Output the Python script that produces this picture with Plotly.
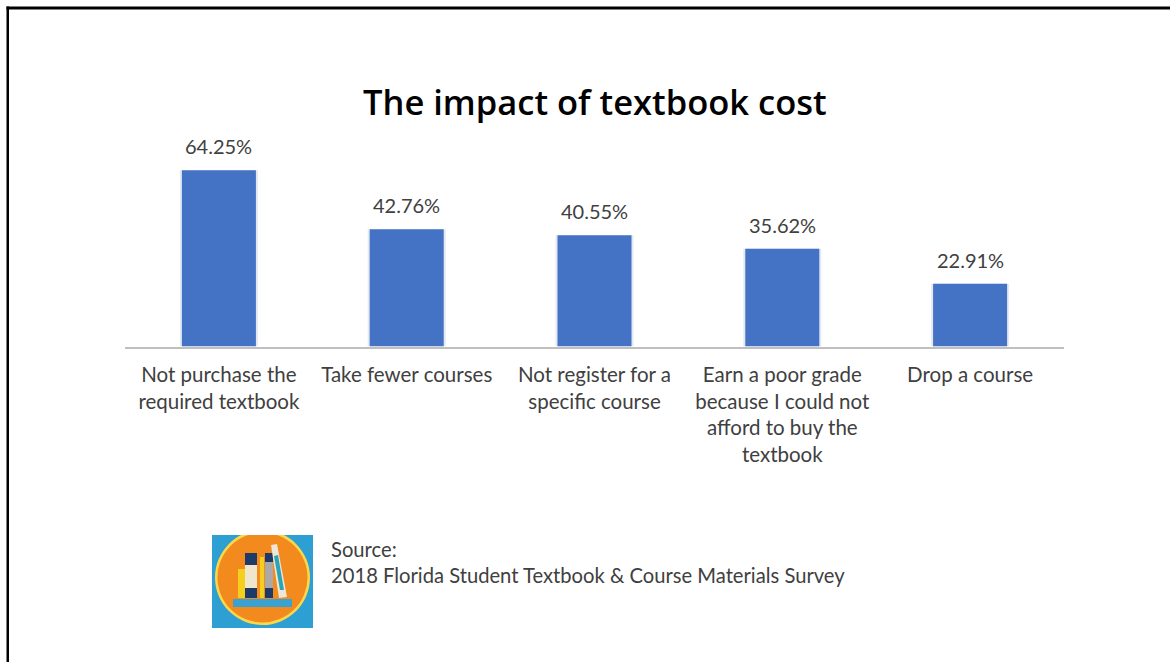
import plotly.graph_objects as go

W, H = 1170, 662

categories = [
    "Not purchase the<br>required textbook",
    "Take fewer courses",
    "Not register for a<br>specific course",
    "Earn a poor grade<br>because I could not<br>afford to buy the<br>textbook",
    "Drop a course",
]
shares = [64.25, 42.76, 40.55, 35.62, 22.91]
share_labels = ["64.25%", "42.76%", "40.55%", "35.62%", "22.91%"]

TITLE = "The impact of textbook cost"
SOURCE = "Source:<br>2018 Florida Student Textbook &amp; Course Materials Survey"
TITLE_FONT = "Open Sans"
FONT = "Lato"
TEXT = "#404040"


def px(x):
    return x / W


def py(y):
    return 1 - y / H


def rect(x0, y0, x1, y1, fill):
    return dict(type="rect", xref="paper", yref="paper",
                x0=px(x0), x1=px(x1), y0=py(y0), y1=py(y1),
                fillcolor=fill, line=dict(width=0), layer="above")


def circle(cx, cy, r, fill):
    return dict(type="circle", xref="paper", yref="paper",
                x0=px(cx - r), x1=px(cx + r), y0=py(cy + r), y1=py(cy - r),
                fillcolor=fill, line=dict(width=0), layer="above")


def poly(points, fill):
    path = "M " + " L ".join(f"{px(x):.5f} {py(y):.5f}" for x, y in points) + " Z"
    return dict(type="path", xref="paper", yref="paper", path=path,
                fillcolor=fill, line=dict(width=0), layer="above")


# Outer slide frame: only the top and left edges show
frame = [
    rect(6.5, 6.5, 1170, 9.5, "#000000"),
    rect(6.5, 6.5, 9, 662, "#000000"),
]

# Bookshelf badge next to the source note
badge = [
    rect(212, 535, 313, 628, "#2E9FD3"),
    circle(262.5, 577.5, 47.5, "#FBD84A"),
    circle(262.5, 577.5, 45, "#F28A1E"),
    rect(212, 525, 313, 535, "#FFFFFF"),
    rect(238, 569, 246, 598, "#F4CF1E"),
    rect(245, 553, 257, 598, "#1E3A66"),
    rect(245, 565, 257, 588, "#F0E6CC"),
    rect(260, 557, 264, 598, "#F4CF1E"),
    rect(265, 553, 273, 598, "#1E3A66"),
    rect(265, 562, 273, 588, "#A9A9A9"),
    poly([(271, 545), (277, 544), (287, 597), (279, 598)], "#EFE6D6"),
    poly([(274, 556), (278, 555), (284, 590), (280, 590)], "#2AA5B8"),
    rect(233, 599, 292, 607, "#3AA2D0"),
]

# Each bar sits on a slightly wider pale copy that reads as a soft shadow
shadow = go.Bar(
    x=categories, y=shares, width=0.415,
    marker=dict(color="#E3E8F2", line=dict(width=0)),
    hoverinfo="skip",
)
bars = go.Bar(
    x=categories, y=shares, width=0.394,
    marker=dict(color="#4472C4", line=dict(width=0)),
    hoverinfo="skip",
)

fig = go.Figure([shadow, bars])

value_labels = [
    dict(text=label, x=cat, y=val, xref="x", yref="y",
         xanchor="center", yanchor="bottom", yshift=10, showarrow=False,
         font=dict(family=FONT, size=20, color=TEXT))
    for cat, val, label in zip(categories, shares, share_labels)
]

fig.update_layout(
    width=W,
    height=H,
    autosize=False,
    barmode="overlay",
    margin=dict(l=0, r=0, t=0, b=0),
    paper_bgcolor="#FFFFFF",
    plot_bgcolor="#FFFFFF",
    showlegend=False,
    font=dict(family=FONT, color=TEXT),
    xaxis=dict(
        domain=[px(125), px(1064)],
        tickfont=dict(family=FONT, size=20.5, color=TEXT),
        ticks="",
        ticklabelstandoff=9,
        showline=True,
        linecolor="#BFBFBF",
        linewidth=2,
        tickangle=0,
    ),
    yaxis=dict(
        domain=[py(346.5), py(154.5)],
        range=[0, 70],
        visible=False,
    ),
    shapes=frame + badge,
    annotations=value_labels + [
        dict(text=TITLE, xref="paper", yref="paper", x=px(594.5), y=py(102),
             xanchor="center", yanchor="middle", showarrow=False,
             font=dict(family=TITLE_FONT, size=34.5, color="#000000", weight=600)),
        dict(text=SOURCE, xref="paper", yref="paper", x=px(329), y=py(562),
             xanchor="left", yanchor="middle", align="left", showarrow=False,
             font=dict(family=FONT, size=20.2, color=TEXT)),
    ],
)

fig.write_html("out.html")
